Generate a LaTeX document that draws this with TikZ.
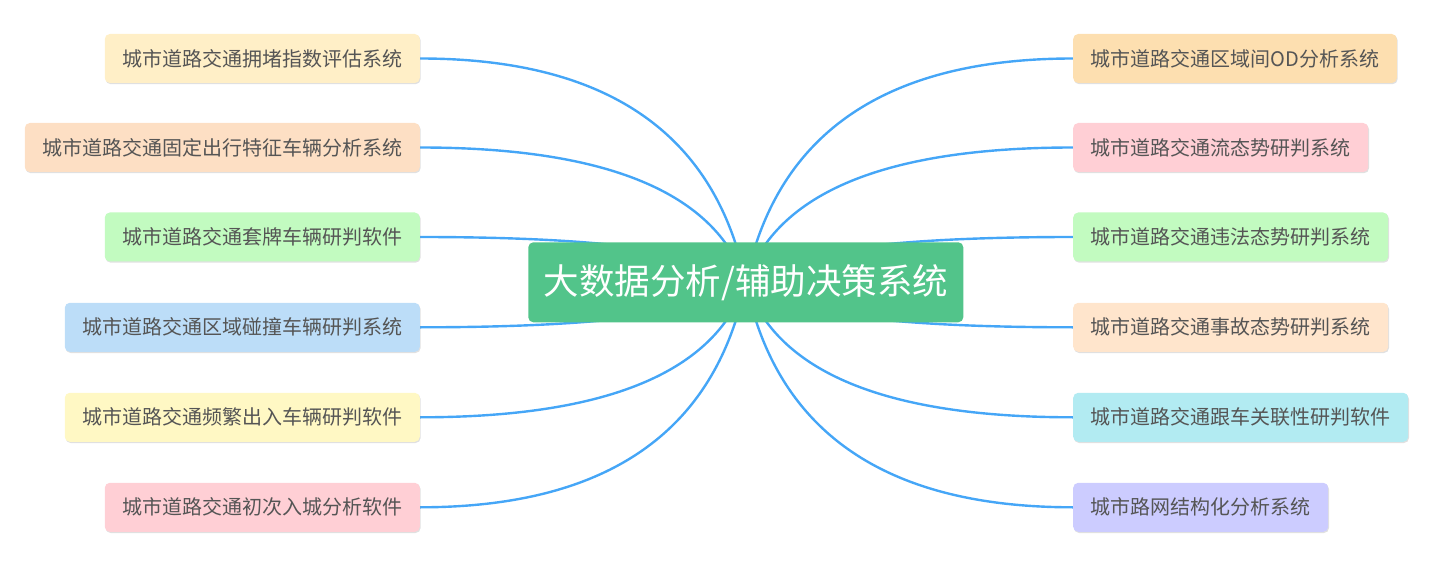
\documentclass[tikz,border=0pt]{standalone}
\usepackage{fontspec}
\setmainfont{Noto Sans CJK SC}
\usepackage{tikz}
\usetikzlibrary{calc, backgrounds, shadows}

\definecolor{hubgreen}{HTML}{52C48A}
\definecolor{linkblue}{HTML}{45A6F7}
\definecolor{leaftext}{HTML}{555555}
\definecolor{cream}{HTML}{FFEFC7}
\definecolor{peach}{HTML}{FDDFC4}
\definecolor{mint}{HTML}{C2FBC0}
\definecolor{sky}{HTML}{BCDDF8}
\definecolor{lemon}{HTML}{FFF8C4}
\definecolor{rose}{HTML}{FFCFD5}
\definecolor{apricot}{HTML}{FDDFB0}
\definecolor{bisque}{HTML}{FFE5CC}
\definecolor{aqua}{HTML}{B2EBF2}
\definecolor{lavender}{HTML}{CCCCFF}

\tikzset{
    leaf/.style={rounded corners=5pt, inner xsep=17.5pt, minimum height=49pt,
        font=\fontsize{20}{24}\selectfont, text=leaftext,
        drop shadow={shadow xshift=0.8pt, shadow yshift=-1.2pt, fill=black!40, opacity=0.3}},
    hub/.style={fill=hubgreen, rounded corners=5pt, minimum width=435pt, minimum height=80pt,
        font=\fontsize{35.5}{40}\selectfont, text=white},
    link/.style={draw=linkblue, line width=2.4pt},
    branch/.style={to path={.. controls ($(\tikztostart)!2/3!(\tikztostart -| #1)$) and ($(\tikztotarget)!2/3!(\tikztostart -| #1)$) .. (\tikztotarget)}}
}

\begin{document}
\begin{tikzpicture}[x=1pt, y=-1pt]
        \useasboundingbox (0,0) rectangle (1446,580);

        \node[hub] (hub) at (745.8,282.3) {大数据分析/辅助决策系统};
        \coordinate (kl) at (700,282.3);
        \coordinate (kr) at (792,282.3);

        % left side
        \node[leaf, fill=cream, anchor=east] (jam) at (420,58.5) {城市道路交通拥堵指数评估系统};
        \node[leaf, fill=peach, anchor=east] (commute) at (420,147.5) {城市道路交通固定出行特征车辆分析系统};
        \node[leaf, fill=mint, anchor=east] (clone) at (420,237) {城市道路交通套牌车辆研判软件};
        \node[leaf, fill=sky, anchor=east] (collide) at (420,327.3) {城市道路交通区域碰撞车辆研判系统};
        \node[leaf, fill=lemon, anchor=east] (frequent) at (420,417.3) {城市道路交通频繁出入车辆研判软件};
        \node[leaf, fill=rose, anchor=east] (firstin) at (420,507.3) {城市道路交通初次入城分析软件};

        % right side
        \node[leaf, fill=apricot, anchor=west] (od) at (1073,58.5) {城市道路交通区域间OD分析系统};
        \node[leaf, fill=rose, anchor=west] (flow) at (1073,147.5) {城市道路交通流态势研判系统};
        \node[leaf, fill=mint, anchor=west] (illegal) at (1073,237) {城市道路交通违法态势研判系统};
        \node[leaf, fill=bisque, anchor=west] (accident) at (1073,327.3) {城市道路交通事故态势研判系统};
        \node[leaf, fill=aqua, anchor=west] (follow) at (1073,417.3) {城市道路交通跟车关联性研判软件};
        \node[leaf, fill=lavender, anchor=west] (roadnet) at (1073,507.3) {城市路网结构化分析系统};

        \begin{scope}[on background layer]
        \draw[link]
        (jam.east) edge[branch=kl] (hub.center)
        (commute.east) edge[branch=kl] (hub.center)
        (clone.east) edge[branch=kl] (hub.center)
        (collide.east) edge[branch=kl] (hub.center)
        (frequent.east) edge[branch=kl] (hub.center)
        (firstin.east) edge[branch=kl] (hub.center)
        (od.west) edge[branch=kr] (hub.center)
        (flow.west) edge[branch=kr] (hub.center)
        (illegal.west) edge[branch=kr] (hub.center)
        (accident.west) edge[branch=kr] (hub.center)
        (follow.west) edge[branch=kr] (hub.center)
        (roadnet.west) edge[branch=kr] (hub.center)
        ;
        \end{scope}
\end{tikzpicture}
\end{document}
